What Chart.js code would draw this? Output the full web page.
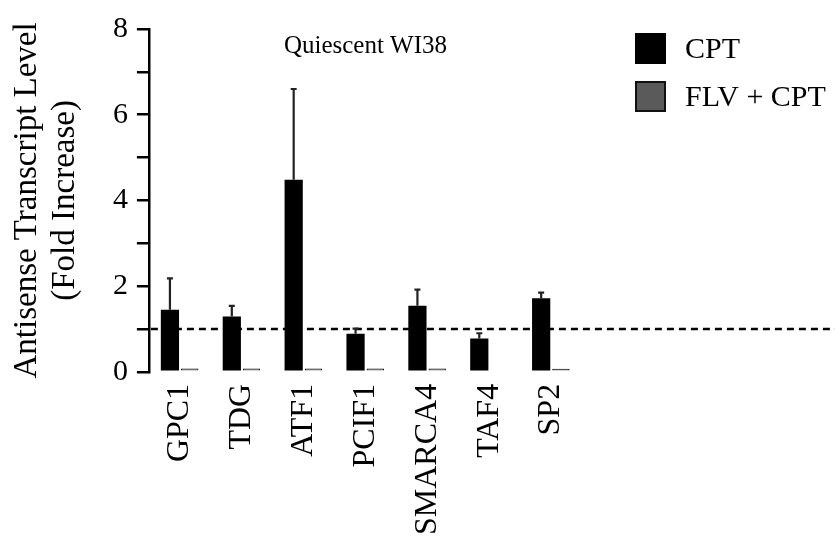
<!DOCTYPE html>
<html>
<head>
<meta charset="utf-8">
<script src="https://cdn.jsdelivr.net/npm/chart.js@4.4.0/dist/chart.umd.min.js"></script>
<style>
  body { margin: 0; background: #fff; }
  #wrap { width: 835px; height: 536px; }
</style>
</head>
<body>
<div id="wrap"><canvas id="myChart" width="835" height="536"></canvas></div>
<script>
// values
const genes = ['GPC1', 'TDG', 'ATF1', 'PCIF1', 'SMARCA4', 'TAF4', 'SP2'];
const cptValues = [1.45, 1.29, 4.48, 0.89, 1.54, 0.78, 1.72];
const cptErrTop = [2.18, 1.54, 6.6, 1.01, 1.92, 0.9, 1.85];
const flvValues = [0.08, 0.08, 0.08, 0.08, 0.08, -0.05, 0.07];
const seriesNames = ['CPT', 'FLV + CPT'];
const baseline = 1;
const chartTitle = 'Quiescent WI38';

const serif = "'Liberation Serif', 'Times New Roman', serif";

// dashed reference line at fold increase = 1, runs past the plot to the edge
const refLine = {
    id: 'refLine',
    afterDatasetsDraw(chart) {
        const ctx = chart.ctx;
        const y = chart.scales.y.getPixelForValue(baseline);
        ctx.save();
        ctx.strokeStyle = '#000';
        ctx.lineWidth = 2.5;
        ctx.setLineDash([7, 5]);
        ctx.beginPath();
        ctx.moveTo(chart.chartArea.left + 2, y);
        ctx.lineTo(chart.width, y);
        ctx.stroke();
        ctx.restore();
    }
};

// one-sided error bars on the CPT bars
const errBars = {
    id: 'errBars',
    afterDatasetsDraw(chart) {
        const ctx = chart.ctx;
        const yScale = chart.scales.y;
        const meta = chart.getDatasetMeta(0);
        ctx.save();
        ctx.strokeStyle = '#222';
        ctx.lineWidth = 2.2;
        meta.data.forEach((bar, i) => {
            const yTop = yScale.getPixelForValue(cptErrTop[i]);
            ctx.beginPath();
            ctx.moveTo(bar.x, bar.y);
            ctx.lineTo(bar.x, yTop);
            ctx.moveTo(bar.x - 3, yTop);
            ctx.lineTo(bar.x + 3, yTop);
            ctx.stroke();
        });
        ctx.restore();
    }
};

// title inside the plot and legend at top right
const extras = {
    id: 'extras',
    afterDraw(chart) {
        const ctx = chart.ctx;
        const area = chart.chartArea;
        ctx.save();
        ctx.fillStyle = '#000';
        ctx.font = '25px ' + serif;
        ctx.textAlign = 'center';
        ctx.textBaseline = 'alphabetic';
        ctx.fillText(chartTitle, (area.left + area.right) / 2, 53);

        ctx.font = '30px ' + serif;
        ctx.textAlign = 'left';
        ctx.textBaseline = 'middle';
        chart.data.datasets.forEach((ds, i) => {
            const bx = 635, by = 33 + i * 48;
            ctx.fillStyle = ds.backgroundColor;
            ctx.fillRect(bx, by, 31, 31);
            if (ds.borderWidth) {
                ctx.strokeStyle = ds.borderColor;
                ctx.lineWidth = 2;
                ctx.strokeRect(bx + 1, by + 1, 29, 29);
            }
            ctx.fillStyle = '#000';
            ctx.fillText(ds.label, 685, by + 17);
        });
        ctx.restore();
    }
};

document.addEventListener('DOMContentLoaded', function() {
    var ctx = document.getElementById('myChart').getContext('2d');

    var myChart = new Chart(ctx, {
        type: 'bar',
        data: {
            labels: genes,
            datasets: [{
                label: seriesNames[0],
                data: cptValues,
                backgroundColor: '#000',
                borderWidth: 0,
                categoryPercentage: 0.64,
                barPercentage: 0.92
            }, {
                label: seriesNames[1],
                data: flvValues,
                backgroundColor: '#5a5a5a',
                borderColor: '#111',
                borderWidth: 1.2,
                categoryPercentage: 0.64,
                barPercentage: 0.88
            }]
        },
        options: {
            responsive: false,
            animation: false,
            layout: { padding: { left: 8, right: 253, top: 29, bottom: 0 } },
            plugins: {
                legend: { display: false },
                tooltip: { enabled: false }
            },
            scales: {
                x: {
                    grid: { display: false, drawTicks: false },
                    border: { display: false },
                    ticks: {
                        color: '#000',
                        font: { family: serif, size: 32 },
                        minRotation: 90,
                        maxRotation: 90,
                        padding: 12
                    },
                    afterFit: function(scale) {
                        scale.height -= 11;
                    }
                },
                y: {
                    min: 0,
                    max: 8,
                    border: { display: true, color: '#000', width: 2.5 },
                    grid: {
                        drawOnChartArea: false,
                        drawTicks: true,
                        tickLength: 12,
                        color: '#000',
                        lineWidth: 2.5
                    },
                    ticks: {
                        stepSize: 1,
                        color: '#000',
                        padding: 9,
                        font: { family: serif, size: 30 },
                        callback: v => (v % 2 === 0 ? v : '')
                    },
                    title: {
                        display: true,
                        text: ['Antisense Transcript Level', '(Fold Increase)'],
                        color: '#000',
                        font: { family: serif, size: 33, lineHeight: 1.15 },
                        padding: { top: 0, bottom: 20 }
                    }
                }
            }
        },
        plugins: [refLine, errBars, extras]
    });
});
</script>
</body>
</html>
